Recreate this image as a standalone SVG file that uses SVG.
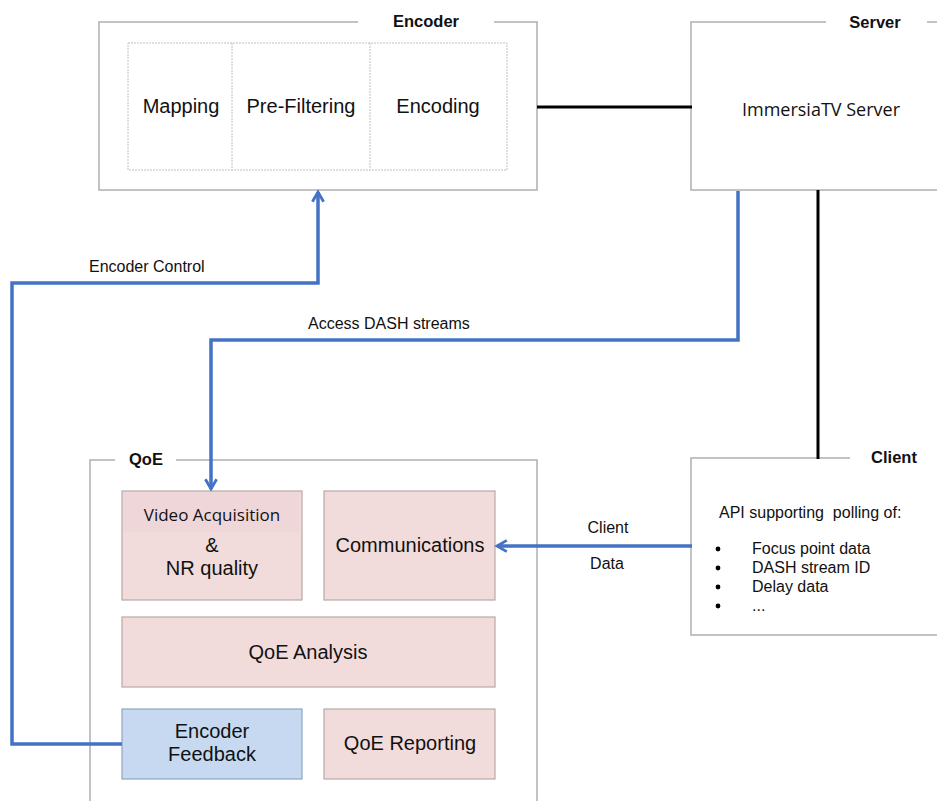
<svg xmlns="http://www.w3.org/2000/svg" width="937" height="801" viewBox="0 0 937 801">
<defs>
<style>
text{font-family:"Liberation Sans",Arial,sans-serif;fill:#111;}
.grp{fill:none;stroke:#b0b0b0;stroke-width:1.5;}
.inner{fill:none;stroke:#c0c0c0;stroke-width:1;stroke-dasharray:2 1;}
.lbl{font-size:16.5px;font-weight:bold;text-anchor:middle;}
.big{font-size:20px;text-anchor:middle;}
.pink{fill:#f2dcdb;stroke:#b8a8a8;stroke-width:1.2;}
.blue{fill:#c6d9f1;stroke:#8ea4c0;stroke-width:1.2;}
.cal{font-family:"Open Sans","Noto Sans",sans-serif;}
.blk{fill:none;stroke:#000;stroke-width:3;}
.bl{fill:none;stroke:#4472c4;stroke-width:3.5;stroke-linejoin:miter;}
.small{font-size:16px;}
</style>
<marker id="arr" viewBox="0 0 10 10" refX="8" refY="5" markerWidth="4" markerHeight="4" orient="auto" markerUnits="strokeWidth">
<path d="M1,1 L8,5 L1,9" fill="none" stroke="#4472c4" stroke-width="2"/>
</marker>
</defs>
<rect width="937" height="801" fill="#fff"/>

<g id="encoder">
<path class="grp" d="M358,22 H99 V190 H537 V22 H494"/>
<text class="lbl" x="426" y="27">Encoder</text>
<rect class="inner" x="128" y="43" width="379" height="127"/>
<line class="inner" x1="232" y1="43" x2="232" y2="170"/>
<line class="inner" x1="370" y1="43" x2="370" y2="170"/>
<text class="big" x="181" y="113">Mapping</text>
<text class="big" x="301" y="113">Pre-Filtering</text>
<text class="big" x="438" y="113">Encoding</text>
</g>

<g id="server">
<path class="grp" d="M826,22 H691 V190 H940 M927,22 H940"/>
<text class="lbl" x="875" y="28">Server</text>
<text class="cal" x="821" y="116" font-size="18" text-anchor="middle">ImmersiaTV Server</text>
</g>

<g id="client">
<path class="grp" d="M850,458 H691 V635 H940"/>
<text class="lbl" x="894" y="463">Client</text>
<text class="small" x="719" y="518" xml:space="preserve">API supporting  polling of:</text>
<g fill="#000"><circle cx="718" cy="549" r="2.4"/><circle cx="718" cy="568" r="2.4"/><circle cx="718" cy="587" r="2.4"/><circle cx="718" cy="606" r="2.4"/></g>
<text class="small" x="752" y="554">Focus point data</text>
<text class="small" x="752" y="573">DASH stream ID</text>
<text class="small" x="752" y="592">Delay data</text>
<text class="small" x="752" y="611">...</text>
</g>

<g id="qoe">
<path class="grp" d="M115,460 H90 V801 M176,460 H537 V801"/>
<text class="lbl" x="146" y="465">QoE</text>
</g>

<g id="video-acquisition">
<rect class="pink" x="122" y="491" width="180" height="109"/>
<rect x="123" y="492" width="176" height="40" fill="#efd7d9"/>
<text class="cal" x="212" y="521" font-size="17" text-anchor="middle">Video Acquisition</text>
<text x="212" y="552" font-size="20" text-anchor="middle">&amp;</text>
<text x="212" y="575" font-size="20" text-anchor="middle">NR quality</text>
</g>

<g id="communications">
<rect class="pink" x="324" y="491" width="171" height="109"/>
<text class="big" x="410" y="552">Communications</text>
</g>

<g id="qoe-analysis">
<rect class="pink" x="122" y="617" width="373" height="70"/>
<text class="big" x="308" y="659">QoE Analysis</text>
</g>

<g id="encoder-feedback">
<rect class="blue" x="122" y="709" width="180" height="70"/>
<text class="big" x="212" y="738">Encoder</text>
<text class="big" x="212" y="761">Feedback</text>
</g>

<g id="qoe-reporting">
<rect class="pink" x="324" y="709" width="171" height="70"/>
<text class="big" x="410" y="750">QoE Reporting</text>
</g>

<g id="connectors">
<line class="blk" x1="537" y1="107" x2="692" y2="107"/>
<line class="blk" x1="818" y1="190" x2="818" y2="459"/>
<path class="bl" d="M738,191 V340 H211 V489" marker-end="url(#arr)"/>
<path class="bl" d="M122,744 H12 V283 H318 V192" marker-end="url(#arr)"/>
<path class="bl" d="M692,546 H497" marker-end="url(#arr)"/>
<text class="small" x="89" y="272">Encoder Control</text>
<text class="small" x="308" y="329">Access DASH streams</text>
<text class="small" x="608" y="533" text-anchor="middle">Client</text>
<text class="small" x="607" y="569" text-anchor="middle">Data</text>
</g>
</svg>
